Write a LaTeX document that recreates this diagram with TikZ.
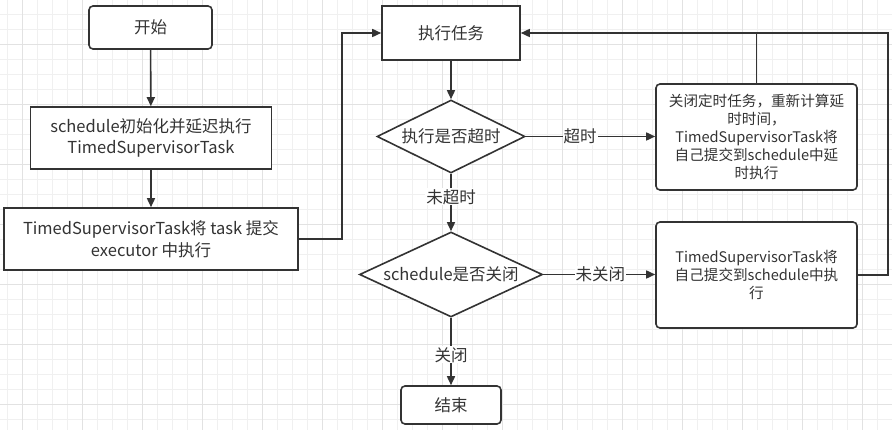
\documentclass[tikz,border=0pt]{standalone}
\usepackage{fontspec}
\setmainfont{Noto Sans CJK SC}
\usetikzlibrary{arrows.meta,shapes.geometric}
\definecolor{ink}{HTML}{333333}
\definecolor{gminor}{HTML}{F0F0F0}
\definecolor{gmajor}{HTML}{E2E2E2}
\begin{document}
\begin{tikzpicture}[x=1pt,y=-1pt,
  every node/.style={text=ink},
  box/.style={draw=ink,line width=1.6pt,fill=white,rectangle,inner sep=0pt,align=center,font=\fontsize{16.5}{21.5}\selectfont},
  rbox/.style={box,rounded corners=4pt},
  sbox/.style={rbox,font=\fontsize{14.6}{18}\selectfont},
  dia/.style={draw=ink,line width=1.6pt,fill=white,diamond,inner sep=0pt,font=\fontsize{16.5}{21.5}\selectfont},
  arr/.style={draw=ink,line width=1.6pt,-{Triangle[length=9pt,width=8pt]}},
  conn/.style={draw=ink,line width=1.6pt},
  lbl/.style={fill=white,inner sep=1pt,font=\fontsize{16.5}{21.5}\selectfont}]
\useasboundingbox (0,0) rectangle (892,430);
\fill[white] (0,0) rectangle (892,430);
% grid
\foreach \k in {0,...,59} {\draw[gminor,line width=0.7pt] (7.3+15*\k,0) -- (7.3+15*\k,430);}
\foreach \k in {0,...,29} {\draw[gminor,line width=0.7pt] (0,14.3+15*\k) -- (892,14.3+15*\k);}
\foreach \k in {0,...,14} {\draw[gmajor,line width=0.7pt] (22.3+60*\k,0) -- (22.3+60*\k,430);}
\foreach \k in {0,...,7} {\draw[gmajor,line width=0.7pt] (0,44.3+60*\k) -- (892,44.3+60*\k);}
% nodes
\node[rbox,minimum width=123pt,minimum height=43pt] (start) at (150.5,27.5) {开始};
\node[box,minimum width=241pt,minimum height=62pt] (init) at (151,138) {schedule初始化并延迟执行\\TimedSupervisorTask};
\node[box,minimum width=294pt,minimum height=62pt] (submit) at (151,239) {TimedSupervisorTask将 task 提交\\executor 中执行};
\node[box,minimum width=138pt,minimum height=54pt] (exec) at (451,33) {执行任务};
\node[dia,minimum width=148pt,minimum height=73pt] (d1) at (451,136.5) {\makebox[0pt]{执行是否超时}};
\node[dia,minimum width=183pt,minimum height=85pt] (d2) at (451,274.5) {\makebox[0pt]{schedule是否关闭}};
\node[rbox,minimum width=100pt,minimum height=38pt] (end) at (451,405) {结束};
\node[sbox,minimum width=201pt,minimum height=106pt] (box1) at (756.5,137) {关闭定时任务，重新计算延\\时时间，\\TimedSupervisorTask将\\自己提交到schedule中延\\时执行};
\node[sbox,minimum width=201pt,minimum height=106pt] (box2) at (756.5,275) {TimedSupervisorTask将\\自己提交到schedule中执\\行};
% connectors
\draw[arr] (start) -- (init);
\draw[arr] (init) -- (submit);
\draw[arr] (submit.east) -- ++(43,0) |- (exec.west);
\draw[arr] (exec) -- (d1);
\draw[arr] (d1.east) -- node[lbl,pos=0.42]{超时} (d1.east -| box1.west);
\draw[arr] (d1) -- node[lbl,pos=0.4]{未超时} (d2);
\draw[arr] (d2.east) -- node[lbl,pos=0.51]{未关闭} (d2.east -| box2.west);
\draw[arr] (d2) -- node[lbl,pos=0.55]{关闭} (end);
\draw[arr] (box1.north) |- (exec.east);
\draw[conn] (box2.east) -- ++(30,0) |- (box1.north |- exec.east);
\end{tikzpicture}
\end{document}
